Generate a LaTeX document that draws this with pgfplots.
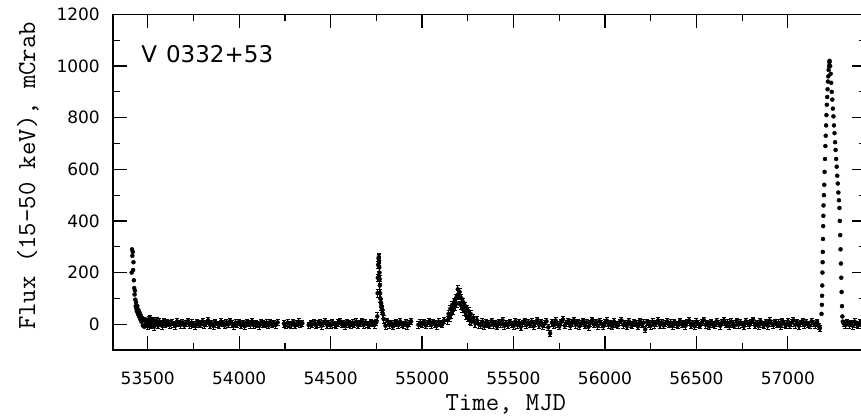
\documentclass[border=0pt]{standalone}
\usepackage{fontspec}
\setmainfont{DejaVu Sans}
\usepackage{pgfplots}
\pgfplotsset{compat=1.18}

\begin{document}
\begin{tikzpicture}
\begin{axis}[
    scale only axis,
    width=752.6pt, height=335.6pt,
    xmin=53310, xmax=57425,
    ymin=-100, ymax=1200,
    xtick={53500,54000,...,57000},
    ytick={0,200,...,1200},
    minor x tick num=1, minor y tick num=1,
    major tick length=14pt, minor tick length=7pt,
    axis line style={line width=1.6pt},
    every tick/.style={black, line width=1.2pt},
    scaled x ticks=false,
    /pgf/number format/1000 sep={},
    /pgf/number format/assume math mode=true,
    tick label style={font=\fontsize{17}{17}\selectfont, inner sep=0pt},
    xticklabel style={anchor=north, yshift=-22pt},
    yticklabel style={anchor=east, xshift=-13pt},
    xlabel={Time, MJD},
    ylabel={Flux (15–50 keV), mCrab},
    label style={font=\ttfamily\fontsize{26}{26}\selectfont, inner sep=0pt},
    xlabel style={at={(axis description cs:0.522,-0.179)}, anchor=base},
    ylabel style={at={(axis description cs:-0.1036,0.519)}, anchor=base},
    pt/.style={black, only marks, mark=*, mark size=2pt,
        mark options={draw=black, fill=black}},
    err/.style={error bars/.cd, y dir=both, y fixed=#1,
        error bar style={black, line width=1.3pt}},
]
\coordinate (ll) at (rel axis cs:0,0);

% 2004-2005 outburst, decay tail
\addplot[pt] coordinates {
 (53412,200)(53414,290)(53416,265)(53418,280)(53420,210)(53422,240)
 (53424,170)(53426,140)(53428,115)(53430,130)(53432,95)(53434,70)
 (53436,85)(53438,60)(53440,50)(53443,70)(53446,40)(53449,55)
 (53452,30)(53455,45)(53458,20)(53461,35)(53465,10)(53469,25)
 (53473,-5)(53477,15)(53481,-10)(53485,20)(53489,0)(53493,12)
};

% quiescent level
\addplot[pt, err=12] coordinates {
 (53500,-8)(53505,18)(53510,2)(53515,22)(53520,-5)(53525,12)(53530,16)(53535,-10)
 (53540,8)(53548,15)(53556,-4)(53564,10)(53572,3)(53580,-7)(53588,12)(53596,0)
 (53604,6)(53610,5)(53620,-4)(53630,8)(53640,1)(53650,-6)(53660,10)(53670,3)
 (53680,-2)(53690,7)(53700,-5)(53710,4)(53720,12)(53730,-3)(53740,6)(53750,0)
 (53760,-8)(53770,9)(53780,2)(53790,-1)(53800,11)(53810,-4)(53820,5)(53830,14)
 (53840,-2)(53850,3)(53860,-7)(53870,8)(53880,1)(53890,-3)(53900,10)(53910,4)
 (53920,-5)(53930,7)(53940,-1)(53950,12)(53960,2)(53970,-6)(53980,6)(53990,0)
 (54000,9)(54010,-3)(54020,4)(54030,-8)(54040,7)(54050,3)(54060,-2)(54070,11)
 (54080,-4)(54090,5)(54100,1)(54110,-6)(54120,8)(54130,2)(54140,-1)(54150,6)
 (54160,-5)(54170,9)(54180,0)(54190,4)(54200,-3)(54210,7)
 (54245,2)(54255,-4)(54265,6)(54275,1)(54285,-2)(54295,8)(54305,-5)(54315,3)
 (54325,10)(54335,-1)(54345,4)
 (54380,-3)(54390,5)(54400,0)(54410,9)(54420,-4)(54430,2)(54440,7)(54450,-6)
 (54460,4)(54470,11)(54480,-2)(54490,3)(54500,-5)(54510,8)(54520,1)(54530,-3)
 (54540,6)(54550,12)(54560,-1)(54570,4)(54580,-7)(54590,9)(54600,2)(54610,-2)
 (54620,6)(54630,0)(54640,10)(54650,-4)(54660,5)(54670,13)(54680,-3)(54690,7)
 (54700,1)(54710,-5)(54720,9)(54730,3)(54740,-2)(54750,8)
 (54800,-6)(54810,12)(54820,-2)(54830,5)(54840,-9)(54850,3)(54860,8)(54870,-4)
 (54880,10)(54890,1)(54900,-3)(54910,7)(54920,-6)(54930,4)(54940,11)
 (54980,-2)(54990,6)(55000,0)(55010,9)(55020,-5)(55030,4)(55040,12)(55050,-3)
 (55060,7)(55070,2)(55080,-6)(55090,10)(55100,3)(55110,-1)(55120,14)
 (55320,-4)(55330,10)(55340,-8)(55350,6)(55360,2)(55370,-5)(55380,12)(55390,-2)
 (55400,4)(55410,-9)(55420,8)(55430,0)(55440,15)(55450,-6)(55460,3)(55470,-3)
 (55480,9)(55490,1)(55500,-7)(55510,11)(55520,-2)(55530,6)(55540,-10)(55550,4)
 (55560,13)(55570,-4)(55580,7)(55590,-1)(55600,10)(55610,-8)(55620,5)(55630,16)
 (55640,-3)(55650,8)(55660,-6)(55670,2)(55680,11)(55690,-12)(55700,-35)(55710,6)
 (55720,-4)(55730,14)(55740,0)(55750,-9)(55760,9)(55770,18)(55780,-5)(55790,4)
 (55800,12)(55810,-7)(55820,6)(55830,15)(55840,-2)(55850,9)(55860,-8)(55870,3)
 (55880,13)(55890,-4)(55900,7)(55910,-10)(55920,5)(55930,16)(55940,-1)(55950,8)
 (55960,-6)(55970,11)(55980,2)(55990,-8)(56000,6)(56010,14)(56020,-3)(56030,5)
 (56040,-9)(56050,10)(56060,1)(56070,-5)(56080,8)(56090,15)(56100,-2)(56110,4)
 (56120,-7)(56130,11)(56140,0)(56150,-4)(56160,9)(56170,3)(56180,-8)(56190,12)
 (56200,-1)(56210,6)(56220,-20)(56230,8)(56240,2)(56250,-6)(56260,10)(56270,-3)
 (56280,5)(56290,14)(56300,-2)(56310,7)(56320,-5)(56330,3)(56340,11)(56350,-1)
 (56360,6)(56370,-7)(56380,9)(56390,1)(56400,-4)(56410,12)(56420,0)(56430,5)
 (56440,-6)(56450,8)(56460,14)(56470,-3)(56480,4)(56490,-8)(56500,10)(56510,2)
 (56520,-5)(56530,7)(56540,16)(56550,-2)(56560,5)(56570,-9)(56580,9)(56590,1)
 (56600,-4)(56610,11)(56620,3)(56630,-6)(56640,8)(56650,15)(56660,-1)(56670,6)
 (56680,-8)(56690,10)(56700,2)(56710,-5)(56720,13)(56730,-2)(56740,7)(56750,0)
 (56760,-6)(56770,11)(56780,4)(56790,-3)(56800,9)(56810,17)(56820,-4)(56830,5)
 (56840,-7)(56850,12)(56860,1)(56870,-2)(56880,8)(56890,-6)(56900,14)(56910,3)
 (56920,-4)(56930,9)(56940,-1)(56950,6)(56960,-8)(56970,12)(56980,2)(56990,-3)
 (57000,10)(57010,-5)(57020,6)(57030,15)(57040,-2)(57050,8)(57060,-6)(57070,4)
 (57080,12)(57090,-3)(57100,7)(57110,0)(57120,-5)(57130,11)(57140,3)(57150,-4)
 (57160,9)(57170,-8)(57175,-15)
 (57305,3)(57315,-4)(57325,8)(57335,-2)(57345,5)(57355,-6)(57365,10)(57375,1)
 (57385,-3)(57395,7)(57405,-5)(57415,4)(57422,0)
};

% 2008 outburst
\addplot[pt, err=15] coordinates {
 (54755,30)(54757,120)(54758,180)(54760,230)(54762,255)(54764,260)
 (54765,245)(54766,220)(54767,200)(54768,175)(54769,150)(54770,120)
 (54772,100)(54774,85)(54776,80)(54778,70)(54780,60)(54783,55)
 (54786,40)(54790,20)
};

% 2009-2010 activity
\addplot[pt, err=15] coordinates {
 (55140,15)(55145,40)(55150,25)(55155,60)(55160,40)(55165,75)(55170,55)
 (55175,85)(55180,70)(55185,100)(55190,80)(55195,135)(55200,110)
 (55205,125)(55210,75)(55215,100)(55220,60)(55225,85)(55230,50)
 (55235,70)(55240,35)(55245,60)(55250,25)(55255,50)(55260,15)(55265,40)
 (55270,10)(55280,25)(55290,5)(55300,15)(55310,0)
};

% 2015 giant outburst
\addplot[pt] coordinates {
 (57184,40)(57186,75)(57187,110)(57188,150)(57189,200)(57190,240)
 (57191,280)(57192,330)(57193,380)(57194,420)(57195,460)(57197,500)
 (57199,540)(57201,590)(57203,640)(57205,690)(57207,730)(57209,770)
 (57211,810)(57213,850)(57215,880)(57217,910)(57219,940)(57221,960)
 (57223,985)(57225,1000)(57227,1015)(57228,1020)(57231,1000)(57234,970)
 (57237,935)(57240,900)(57243,870)(57246,835)(57249,805)(57252,770)
 (57255,740)(57258,705)(57261,675)(57264,640)(57267,610)(57270,575)
 (57273,545)(57276,510)(57279,480)(57282,450)(57284,400)(57286,345)
 (57288,290)(57290,235)(57292,180)(57294,125)(57296,70)(57298,30)
 (57300,10)
};

\node[anchor=west, inner sep=0pt, font=\fontsize{23}{23}\selectfont]
    at (axis cs:53464,1048) {V\hspace{9pt}0332+53};
\end{axis}
\pgfresetboundingbox
\path[use as bounding box] ([shift={(-113pt,-66pt)}]ll) rectangle ([shift={(748pt,350pt)}]ll);
\end{tikzpicture}
\end{document}
